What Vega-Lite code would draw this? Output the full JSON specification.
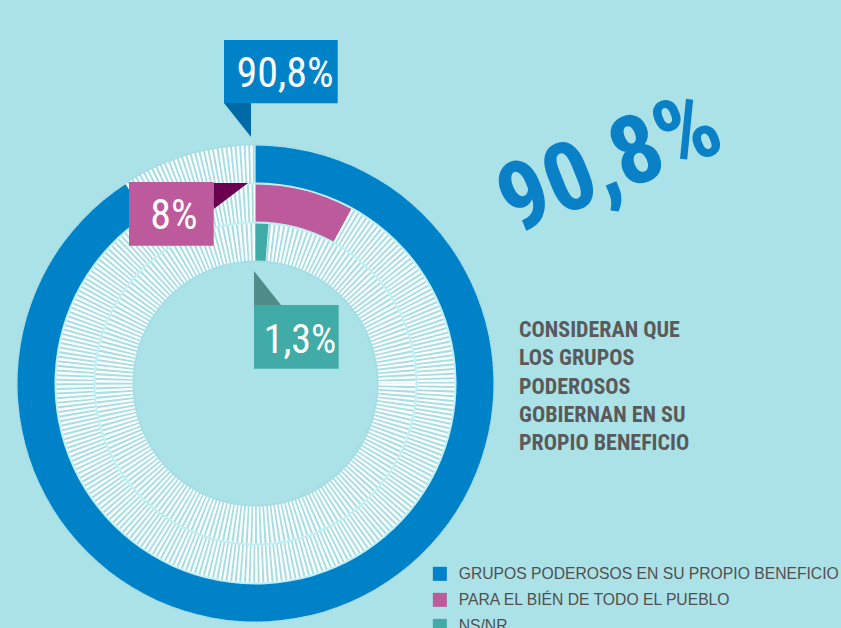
{
  "$schema": "https://vega.github.io/schema/vega-lite/v6.json",
  "width": 841,
  "height": 628,
  "padding": 0,
  "autosize": {"type": "none"},
  "background": "#abe2e8",
  "config": {"view": {"stroke": null}},
  "data": {
    "values": [
      {"category": "GRUPOS PODEROSOS EN SU PROPIO BENEFICIO", "value": 90.8, "label": "90,8%"},
      {"category": "PARA EL BIÉN DE TODO EL PUEBLO", "value": 8, "label": "8%"},
      {"category": "NS/NR", "value": 1.3, "label": "1,3%"}
    ]
  },
  "layer": [
    {
      "transform": [{"filter": "datum.value > 50"}],
      "mark": {"type": "point", "shape": "circle", "x": 255.5, "y": 383.5, "size": 129960, "filled": false, "stroke": "#a5dee4", "strokeWidth": 118.5, "opacity": 1},
      "encoding": {}
    },
    {
      "transform": [{"filter": "datum.value > 50"}],
      "mark": {"type": "point", "shape": "circle", "x": 255.5, "y": 383.5, "size": 160000, "filled": false, "stroke": "#bfeff3", "strokeWidth": 2.5, "opacity": 1},
      "encoding": {}
    },
    {
      "transform": [{"filter": "datum.value > 50"}],
      "mark": {"type": "point", "shape": "circle", "x": 255.5, "y": 383.5, "size": 103684, "filled": false, "stroke": "#bfeff3", "strokeWidth": 2.5, "opacity": 1},
      "encoding": {}
    },
    {
      "transform": [{"filter": "datum.value > 50"}],
      "mark": {"type": "point", "shape": "circle", "x": 255.5, "y": 383.5, "size": 192721, "filled": false, "stroke": "#ffffff", "strokeWidth": 37, "strokeDash": [2.3, 1.9], "opacity": 1},
      "encoding": {}
    },
    {
      "transform": [{"filter": "datum.value > 50"}],
      "mark": {"type": "point", "shape": "circle", "x": 255.5, "y": 383.5, "size": 130321, "filled": false, "stroke": "#ffffff", "strokeWidth": 37, "strokeDash": [2.3, 1.9], "opacity": 1},
      "encoding": {}
    },
    {
      "transform": [{"filter": "datum.value > 50"}],
      "mark": {"type": "point", "shape": "circle", "x": 255.5, "y": 383.5, "size": 80089, "filled": false, "stroke": "#ffffff", "strokeWidth": 37, "strokeDash": [2.3, 1.9], "opacity": 1},
      "encoding": {}
    },
    {
      "transform": [{"filter": "datum.value > 50"}],
      "mark": {"type": "arc", "x": 255.5, "y": 383.5, "radius": 238, "radius2": 201},
      "encoding": {
        "theta": {"field": "value", "type": "quantitative", "scale": {"domain": [0, 100]}},
        "color": {
          "field": "category", "type": "nominal",
          "scale": {"domain": ["GRUPOS PODEROSOS EN SU PROPIO BENEFICIO", "PARA EL BIÉN DE TODO EL PUEBLO", "NS/NR"], "range": ["#0082c8", "#bc5a9c", "#41aca7"]},
          "legend": {"orient": "none", "legendX": 432, "legendY": 566, "title": null, "padding": 0, "symbolType": "square", "symbolSize": 196, "symbolStrokeWidth": 0, "symbolOpacity": 1, "labelFont": "Liberation Sans", "labelFontSize": 15.7, "labelColor": "#505050", "labelLimit": 500, "labelOffset": 11, "rowPadding": 9}
        }
      }
    },
    {
      "transform": [{"filter": "datum.value > 5 && datum.value < 50"}],
      "mark": {"type": "arc", "x": 255.5, "y": 383.5, "radius": 199, "radius2": 162},
      "encoding": {
        "theta": {"field": "value", "type": "quantitative", "scale": {"domain": [0, 100]}},
        "color": {
          "field": "category", "type": "nominal",
          "scale": {"domain": ["GRUPOS PODEROSOS EN SU PROPIO BENEFICIO", "PARA EL BIÉN DE TODO EL PUEBLO", "NS/NR"], "range": ["#0082c8", "#bc5a9c", "#41aca7"]},
          "legend": {"orient": "none", "legendX": 432, "legendY": 566, "title": null, "padding": 0, "symbolType": "square", "symbolSize": 196, "symbolStrokeWidth": 0, "symbolOpacity": 1, "labelFont": "Liberation Sans", "labelFontSize": 15.7, "labelColor": "#505050", "labelLimit": 500, "labelOffset": 11, "rowPadding": 9}
        }
      }
    },
    {
      "transform": [{"filter": "datum.value < 5"}],
      "mark": {"type": "arc", "x": 255.5, "y": 383.5, "radius": 160, "radius2": 123},
      "encoding": {
        "theta": {"field": "value", "type": "quantitative", "scale": {"domain": [0, 100]}},
        "color": {
          "field": "category", "type": "nominal",
          "scale": {"domain": ["GRUPOS PODEROSOS EN SU PROPIO BENEFICIO", "PARA EL BIÉN DE TODO EL PUEBLO", "NS/NR"], "range": ["#0082c8", "#bc5a9c", "#41aca7"]},
          "legend": {"orient": "none", "legendX": 432, "legendY": 566, "title": null, "padding": 0, "symbolType": "square", "symbolSize": 196, "symbolStrokeWidth": 0, "symbolOpacity": 1, "labelFont": "Liberation Sans", "labelFontSize": 15.7, "labelColor": "#505050", "labelLimit": 500, "labelOffset": 11, "rowPadding": 9}
        }
      }
    },
    {
      "transform": [{"filter": "datum.value > 50"}],
      "mark": {"type": "rect", "x": 224, "x2": 337.7, "y": 40, "y2": 103.3, "fill": "#0082c8"},
      "encoding": {}
    },
    {
      "transform": [{"filter": "datum.value > 50"}],
      "mark": {"type": "point", "shape": "M-0.794,-1L0.794,-1L0.794,1Z", "x": 237.5, "y": 120, "size": 1156, "filled": true, "fill": "#006aa6", "strokeWidth": 0, "opacity": 1},
      "encoding": {}
    },
    {
      "transform": [{"filter": "datum.value > 50"}],
      "mark": {"type": "text", "x": 285, "y": 87, "align": "center", "baseline": "alphabetic", "font": "Roboto Condensed, DejaVu Sans Condensed, Roboto, sans-serif", "fontSize": 42, "fill": "#ffffff"},
      "encoding": {"text": {"field": "label"}}
    },
    {
      "transform": [{"filter": "datum.value > 5 && datum.value < 50"}],
      "mark": {"type": "rect", "x": 129, "x2": 213.7, "y": 182, "y2": 245.7, "fill": "#bc5a9c"},
      "encoding": {}
    },
    {
      "transform": [{"filter": "datum.value > 5 && datum.value < 50"}],
      "mark": {"type": "point", "shape": "M-1,-0.758L1,-0.758L-1,0.758Z", "x": 230.85, "y": 196, "size": 1176, "filled": true, "fill": "#6b0050", "strokeWidth": 0, "opacity": 1},
      "encoding": {}
    },
    {
      "transform": [{"filter": "datum.value > 5 && datum.value < 50"}],
      "mark": {"type": "text", "x": 174, "y": 229, "align": "center", "baseline": "alphabetic", "font": "Roboto Condensed, DejaVu Sans Condensed, Roboto, sans-serif", "fontSize": 42, "fill": "#ffffff"},
      "encoding": {"text": {"field": "label"}}
    },
    {
      "transform": [{"filter": "datum.value < 5"}],
      "mark": {"type": "rect", "x": 254, "x2": 338.7, "y": 305, "y2": 368.7, "fill": "#41aca7"},
      "encoding": {}
    },
    {
      "transform": [{"filter": "datum.value < 5"}],
      "mark": {"type": "point", "shape": "M-0.794,-1L-0.794,1L0.794,1Z", "x": 267.5, "y": 288, "size": 1156, "filled": true, "fill": "#4f8b88", "strokeWidth": 0, "opacity": 1},
      "encoding": {}
    },
    {
      "transform": [{"filter": "datum.value < 5"}],
      "mark": {"type": "text", "x": 300, "y": 353, "align": "center", "baseline": "alphabetic", "font": "Roboto Condensed, DejaVu Sans Condensed, Roboto, sans-serif", "fontSize": 40, "fill": "#ffffff"},
      "encoding": {"text": {"field": "label"}}
    },
    {
      "transform": [{"filter": "datum.value > 50"}],
      "mark": {"type": "text", "x": 610, "y": 165, "align": "center", "baseline": "middle", "angle": -22, "font": "Roboto Condensed, DejaVu Sans Condensed, Roboto, sans-serif", "fontWeight": "bold", "fontSize": 96, "fill": "#0a80c6"},
      "encoding": {"text": {"field": "label"}}
    },
    {
      "transform": [{"filter": "datum.value > 50"}],
      "mark": {"type": "rule", "x": 502, "y": 126, "x2": 701, "y2": 38, "stroke": "#0a80c6", "strokeWidth": 2},
      "encoding": {}
    },
    {
      "transform": [{"filter": "datum.value > 50"}],
      "mark": {"type": "rule", "x": 701, "y": 38, "x2": 638, "y2": 17, "stroke": "#0a80c6", "strokeWidth": 2},
      "encoding": {}
    },
    {
      "transform": [{"filter": "datum.value > 50"}],
      "mark": {"type": "rule", "x": 719, "y": 189, "x2": 523, "y2": 277, "stroke": "#0a80c6", "strokeWidth": 2},
      "encoding": {}
    },
    {
      "transform": [{"filter": "datum.value > 50"}],
      "mark": {"type": "rule", "x": 523, "y": 277, "x2": 584, "y2": 298, "stroke": "#0a80c6", "strokeWidth": 2},
      "encoding": {}
    },
    {
      "transform": [{"filter": "datum.value > 50"}],
      "mark": {"type": "text", "x": 519, "y": 337, "align": "left", "baseline": "alphabetic", "lineHeight": 28.3, "font": "Roboto Condensed, DejaVu Sans Condensed, Roboto, sans-serif", "fontWeight": "bold", "fontSize": 22, "fill": "#5a5a5a"},
      "encoding": {"text": {"value": ["CONSIDERAN QUE", "LOS GRUPOS", "PODEROSOS", "GOBIERNAN EN SU", "PROPIO BENEFICIO"]}}
    }
  ]
}
